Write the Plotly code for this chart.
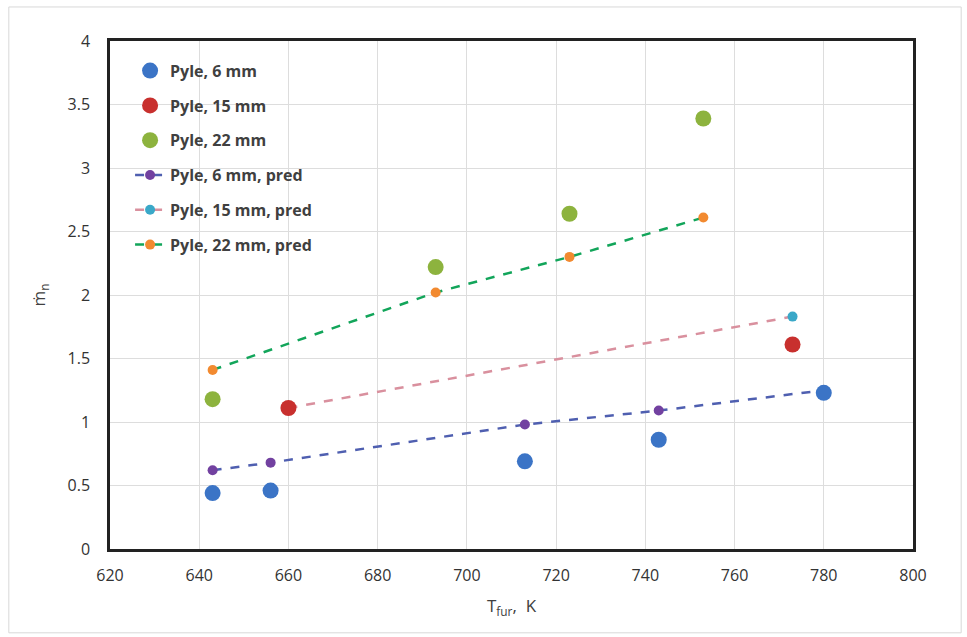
import plotly.graph_objects as go

# Measured data
x6 = [643, 656, 713, 743, 780]
y6 = [0.44, 0.46, 0.69, 0.86, 1.23]
x15 = [660, 773]
y15 = [1.11, 1.61]
x22 = [643, 693, 723, 753]
y22 = [1.18, 2.22, 2.64, 3.39]
# Predictions
xp6 = [643, 656, 713, 743, 780]
yp6 = [0.62, 0.68, 0.98, 1.09, 1.25]
xp15 = [660, 773]
yp15 = [1.11, 1.83]
xp22 = [643, 693, 723, 753]
yp22 = [1.41, 2.02, 2.30, 2.61]

names = ["Pyle, 6 mm", "Pyle, 15 mm", "Pyle, 22 mm",
         "Pyle, 6 mm, pred", "Pyle, 15 mm, pred", "Pyle, 22 mm, pred"]

fig = go.Figure()

pred = [(xp6, yp6, "#4F5FB0", "#7241A0", names[3]),
        (xp15, yp15, "#D9909E", "#3AA8C8", names[4]),
        (xp22, yp22, "#12A55A", "#F28A30", names[5])]
meas = [(x6, y6, "#3B74C6", names[0]),
        (x15, y15, "#C8302E", names[1]),
        (x22, y22, "#8DB33E", names[2])]

for i, (x, y, lc, mc, n) in enumerate(pred):
    fig.add_trace(go.Scatter(x=x, y=y, mode="lines+markers", name=n,
                             line=dict(color=lc, width=2.5, dash="dash"),
                             marker=dict(color=mc, size=10),
                             legendgroup=n, legendrank=4 + i))
for i, (x, y, c, n) in enumerate(meas):
    fig.add_trace(go.Scatter(x=x, y=y, mode="markers", name=n,
                             marker=dict(color=c, size=16),
                             legendgroup=n, legendrank=1 + i))

fig.update_layout(
    width=967, height=637,
    margin=dict(l=110, r=54, t=41, b=88),
    paper_bgcolor="white", plot_bgcolor="white",
    font=dict(family="Open Sans", size=15, color="#404040"),
    showlegend=True,
    legend=dict(x=0.025, y=0.975, xanchor="left", yanchor="top",
                bgcolor="rgba(255,255,255,0)", tracegroupgap=11,
                font=dict(size=16, color="#404040", weight="bold"),
                itemwidth=30),
    xaxis=dict(range=[620, 800], dtick=20, tick0=620,
               showgrid=True, gridcolor="#DDDDDD", gridwidth=1,
               showline=True, linecolor="#222222", linewidth=2.5, mirror=True,
               zeroline=False, ticks="", ticklabelstandoff=10,
               tickfont=dict(size=16, color="#333333"),
               title=dict(text="T<sub>fur</sub>,  K", font=dict(size=17, color="#404040"),
                          standoff=16)),
    yaxis=dict(range=[0, 4], dtick=0.5,
               showgrid=True, gridcolor="#DDDDDD", gridwidth=1,
               showline=True, linecolor="#222222", linewidth=2.5, mirror=True,
               zeroline=False, ticks="", ticklabelstandoff=14,
               tickfont=dict(size=16, color="#333333"),
               title=dict(text="ṁ<sub>n</sub>", font=dict(size=17, color="#404040"),
                          standoff=18)),
)

fig.add_shape(type="rect", xref="paper", yref="paper",
              x0=-0.126, x1=1.06, y0=-0.165, y1=1.067,
              line=dict(color="#D8D8D8", width=1), layer="below")

fig.write_html("out.html")
